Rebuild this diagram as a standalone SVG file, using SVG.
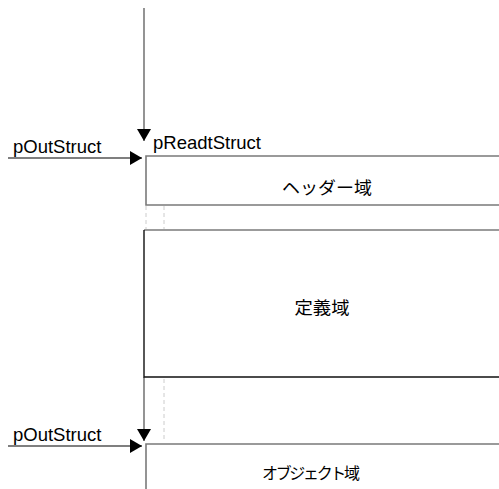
<svg xmlns="http://www.w3.org/2000/svg" width="499" height="489" viewBox="0 0 499 489">
<style>
.lbl{font-family:"Liberation Sans",Arial,sans-serif;font-size:18.5px;fill:#000}
.jp{font-family:"Noto Sans CJK JP","Liberation Sans",sans-serif;font-size:17.5px;fill:#000;text-anchor:middle}
.box{fill:#fff;stroke:#7a7a7a;stroke-width:1.6}
.line{stroke:#000;stroke-width:1.2;fill:none}
.gline{stroke:#666;stroke-width:1.4;fill:none}
.dash{stroke:#ccc;stroke-width:1;stroke-dasharray:4,3;fill:none}
</style>
<defs>
<marker id="ah" viewBox="0 0 12 14" refX="12" refY="7" markerWidth="12" markerHeight="14" markerUnits="userSpaceOnUse" orient="auto">
<path d="M0,0 L12,7 L0,14 Z" fill="#000"/>
</marker>
</defs>
<g id="connectors">
<line class="gline" x1="144" y1="8" x2="144" y2="141" marker-end="url(#ah)"/>
<line class="line" x1="8" y1="158" x2="142" y2="158" marker-end="url(#ah)"/>
<line class="dash" x1="146" y1="206" x2="146" y2="229"/>
<line class="dash" x1="164" y1="206" x2="164" y2="229"/>
<line class="dash" x1="164" y1="379" x2="164" y2="442"/>
<line class="gline" x1="144" y1="377" x2="144" y2="441" marker-end="url(#ah)"/>
<line class="line" x1="8" y1="446" x2="142" y2="446" marker-end="url(#ah)"/>
</g>
<g id="label-pOutStruct1"><text class="lbl" x="13" y="153">pOutStruct</text></g>
<g id="label-pReadtStruct"><text class="lbl" x="153" y="149">pReadtStruct</text></g>
<g id="label-pOutStruct2"><text class="lbl" x="13" y="441">pOutStruct</text></g>
<g id="header">
<path class="box" d="M500,156 H146 V205 H500"/>
<text class="jp" x="327" y="194" textLength="90" lengthAdjust="spacingAndGlyphs">ヘッダー域</text>
</g>
<g id="definition">
<path d="M500,230 H144" stroke="#7a7a7a" stroke-width="1.6" fill="none"/>
<path d="M144,230 V377 H500" stroke="#111" stroke-width="1.4" fill="none"/>
<text class="jp" x="322" y="314" textLength="55" lengthAdjust="spacingAndGlyphs">定義域</text>
</g>
<g id="object">
<path class="box" d="M500,444 H146 V492"/>
<text class="jp" x="311" y="479" style="font-size:16px" textLength="98" lengthAdjust="spacing">オブジェクト域</text>
</g>
</svg>
